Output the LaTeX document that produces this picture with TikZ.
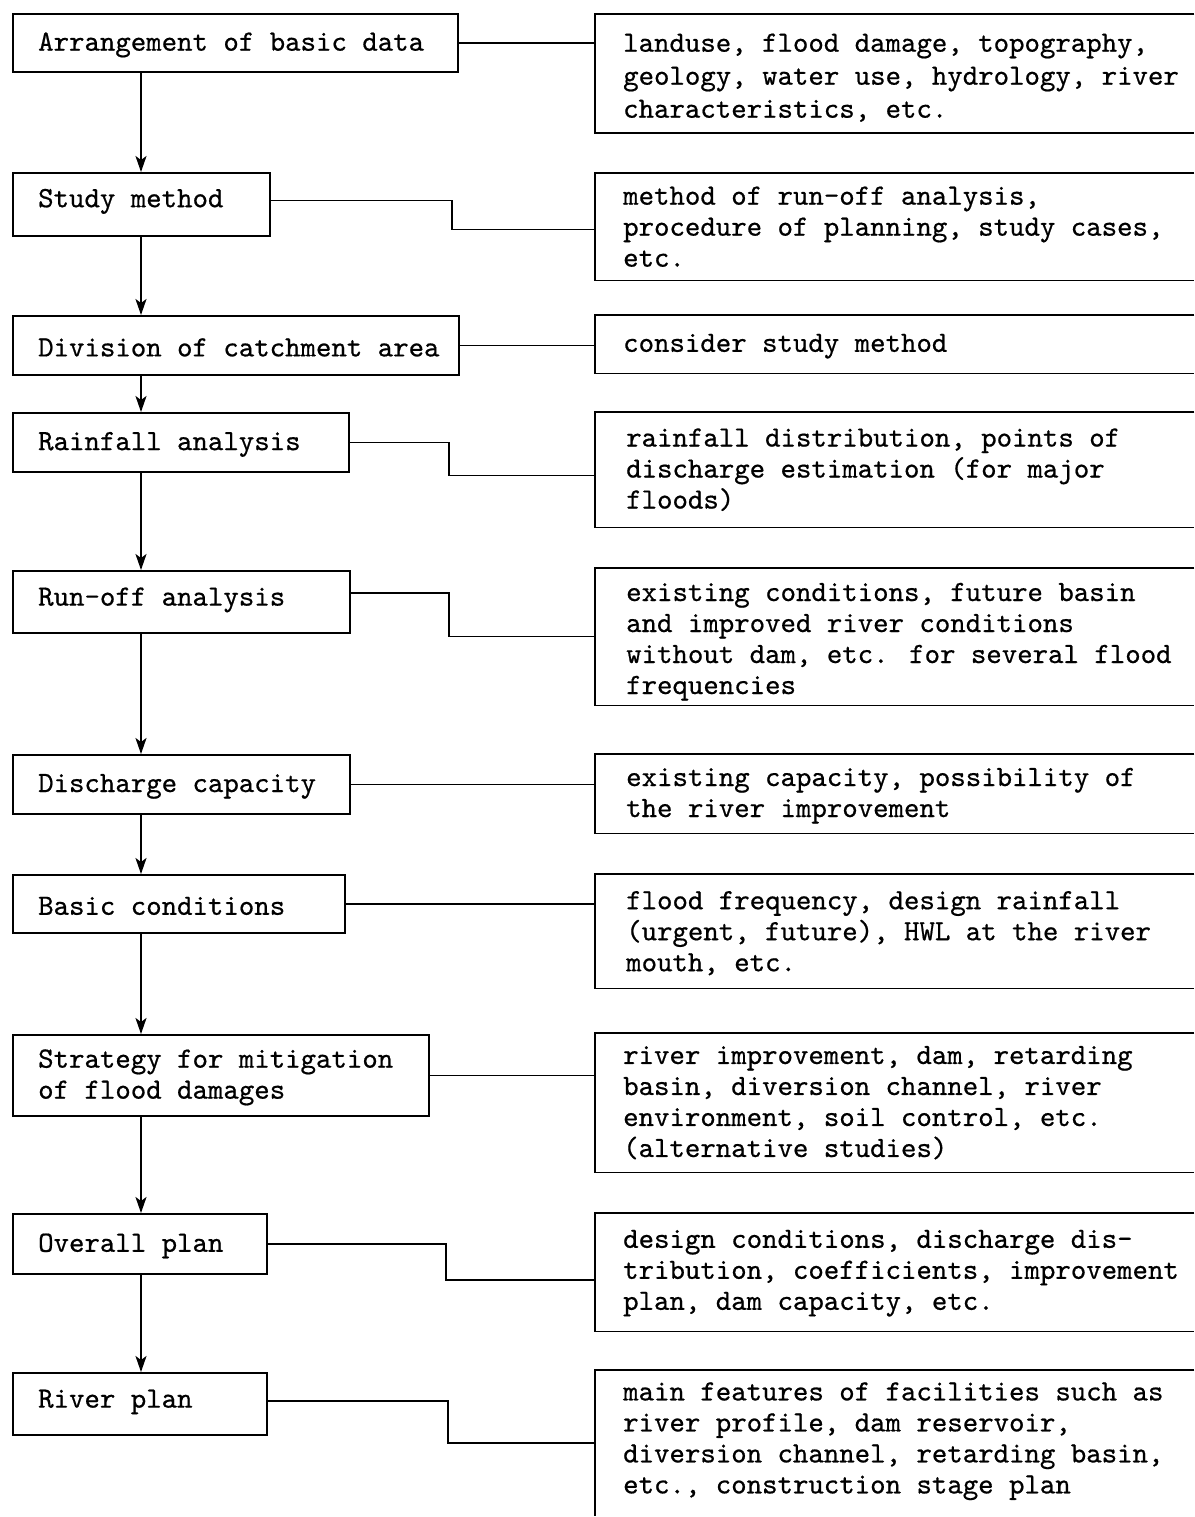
\documentclass[tikz,border=0pt]{standalone}
\usepackage{fontspec}
\newfontfamily\twfont{lmmono10-regular.otf}[FakeBold=0.6]
\usetikzlibrary{arrows.meta}
\begin{document}
\begin{tikzpicture}[x=1pt,y=-1pt,
  lbox/.style={draw, line width=1.8pt, anchor=north west, inner sep=0pt},
  rbox/.style={anchor=north west, inner sep=0pt, minimum width=599pt},
  txt/.style={anchor=west, align=left, inner sep=0pt, font=\twfont\fontsize{29.4}{31}\selectfont},
  link/.style={line width=1.5pt},
  rline/.style={line width=1.8pt},
  flow/.style={line width=1.9pt, -{Stealth[length=16pt,width=11pt,inset=4pt]}}]
\useasboundingbox (0,0) rectangle (1194,1517);
\fill[white] (0,0) rectangle (1194,1517);

% left column
\node[lbox, minimum width=445pt, minimum height=58pt] (b1) at (12,13) {};
\node[txt] (t1) at ([xshift=26pt,yshift=-2pt]b1.west) {Arrangement of basic data};
\node[lbox, minimum width=257pt, minimum height=63pt] (b2) at (12,172) {};
\node[txt] (t2) at ([xshift=26pt,yshift=3pt]b2.west) {Study method};
\node[lbox, minimum width=446pt, minimum height=59pt] (b3) at (12,315) {};
\node[txt] (t3) at ([xshift=26pt,yshift=-2pt]b3.west) {Division of catchment area};
\node[lbox, minimum width=336pt, minimum height=59pt] (b4) at (12,412) {};
\node[txt] (t4) at ([xshift=26pt,yshift=-2pt]b4.west) {Rainfall analysis};
\node[lbox, minimum width=337pt, minimum height=62pt] (b5) at (12,570) {};
\node[txt] (t5) at ([xshift=26pt,yshift=2pt]b5.west) {Run-off analysis};
\node[lbox, minimum width=337pt, minimum height=59pt] (b6) at (12,754) {};
\node[txt] (t6) at ([xshift=26pt,yshift=-2pt]b6.west) {Discharge capacity};
\node[lbox, minimum width=332pt, minimum height=58pt] (b7) at (12,874) {};
\node[txt] (t7) at ([xshift=26pt,yshift=-2pt]b7.west) {Basic conditions};
\node[lbox, minimum width=416pt, minimum height=81pt] (b8) at (12,1034) {};
\node[txt] (t8) at ([xshift=26pt,yshift=-2pt]b8.west) {Strategy for mitigation\\of flood damages};
\node[lbox, minimum width=254pt, minimum height=60pt] (b9) at (12,1213) {};
\node[txt] (t9) at ([xshift=26pt,yshift=-2pt]b9.west) {Overall plan};
\node[lbox, minimum width=254pt, minimum height=62pt] (b10) at (12,1372) {};
\node[txt] (t10) at ([xshift=26pt,yshift=2pt]b10.west) {River plan};

% right column
\node[rbox, minimum height=119pt] (r1) at (595,14) {};
\node[txt, font=\twfont\fontsize{29.4}{33}\selectfont] (u1) at ([xshift=28pt,yshift=-4pt]r1.west) {landuse, flood damage, topography,\\geology, water use, hydrology, river\\characteristics, etc.};
\node[rbox, minimum height=107pt] (r2) at (595,173) {};
\node[txt] (u2) at ([xshift=28pt]r2.west) {method of run-off analysis,\\procedure of planning, study cases,\\etc.};
\node[rbox, minimum height=58pt] (r3) at (595,315) {};
\node[txt] (u3) at ([xshift=28pt,yshift=-2pt]r3.west) {consider study method};
\node[rbox, minimum height=115pt] (r4) at (595,412) {};
\node[txt] (u4) at ([xshift=31pt]r4.west) {rainfall distribution, points of\\discharge estimation (for major\\floods)};
\node[rbox, minimum height=137pt] (r5) at (595,568) {};
\node[txt] (u5) at ([xshift=31pt,yshift=-5pt]r5.west) {existing conditions, future basin\\and improved river conditions\\without dam, etc. for several flood\\frequencies};
\node[rbox, minimum height=79pt] (r6) at (595,754) {};
\node[txt] (u6) at ([xshift=31pt,yshift=-2pt]r6.west) {existing capacity, possibility of\\the river improvement};
\node[rbox, minimum height=114pt] (r7) at (595,874) {};
\node[txt] (u7) at ([xshift=31pt,yshift=-2pt]r7.west) {flood frequency, design rainfall\\(urgent, future), HWL at the river\\mouth, etc.};
\node[rbox, minimum height=139pt] (r8) at (595,1033) {};
\node[txt] (u8) at ([xshift=28pt]r8.west) {river improvement, dam, retarding\\basin, diversion channel, river\\environment, soil control, etc.\\(alternative studies)};
\node[rbox, minimum height=118pt] (r9) at (595,1213) {};
\node[txt] (u9) at ([xshift=28pt,yshift=-1pt]r9.west) {design conditions, discharge dis-\\tribution, coefficients, improvement\\plan, dam capacity, etc.};
\node[rbox, minimum height=146pt] (r10) at (595,1370) {};
\node[txt] (u10) at ([xshift=28pt,yshift=2pt]r10.west) {main features of facilities such as\\river profile, dam reservoir,\\diversion channel, retarding basin,\\etc., construction stage plan};

\foreach \i in {1,...,9}
  \draw[rline] (r\i.north east) -- (r\i.north west) -- (r\i.south west) -- (r\i.south east);
\draw[rline] (r10.north east) -- (r10.north west) -- (r10.south west);

% connectors
\coordinate (k2) at (452,0);
\coordinate (k4) at (449,0);
\coordinate (k5) at (449,0);
\coordinate (k9) at (446,0);
\coordinate (k10) at (448,0);
\foreach \i in {1,3,6,7,8}
  \draw[link] (b\i.east) -- (b\i.east -| r\i.west);
\draw[link] ([yshift=4pt]b2.east) -- ([yshift=4pt]b2.east -| k2) |- ([yshift=-3pt]r2.west);
\draw[link] (b4.east) -- (b4.east -| k4) |- ([yshift=-6pt]r4.west);
\draw[link] ([yshift=9pt]b5.east) -- ([yshift=9pt]b5.east -| k5) |- (r5.west);
\draw[link] (b9.east) -- (b9.east -| k9) |- ([yshift=-8pt]r9.west);
\draw[link] ([yshift=3pt]b10.east) -- ([yshift=3pt]b10.east -| k10) |- (r10.west);

% flow arrows
\coordinate (ax) at (141,0);
\foreach \i/\j in {1/2,2/3,3/4,4/5,5/6,6/7,7/8,8/9,9/10}
  \draw[flow] (b\i.south -| ax) -- (b\j.north -| ax);
\end{tikzpicture}
\end{document}
